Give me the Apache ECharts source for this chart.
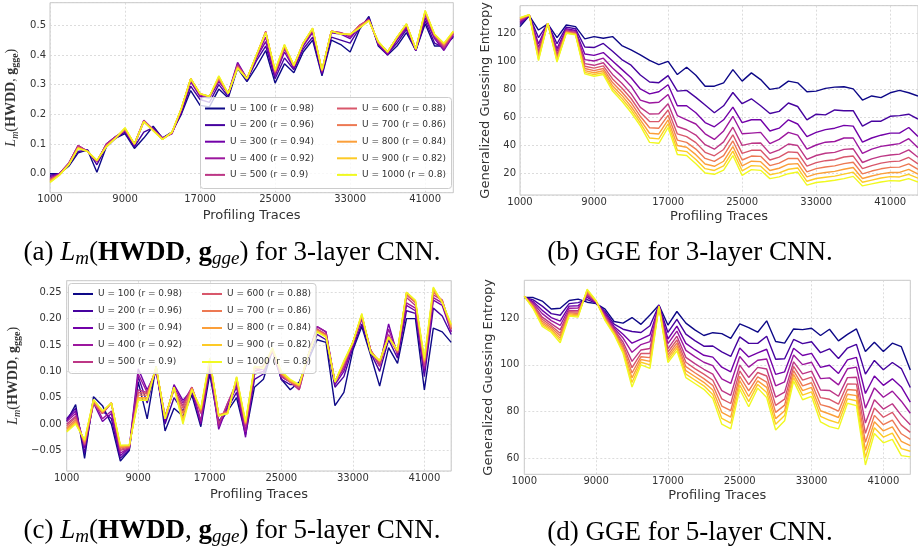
<!DOCTYPE html>
<html>
<head>
<meta charset="utf-8">
<title>HWDD / GGE</title>
<script src="https://cdn.jsdelivr.net/npm/echarts@6.0.0/dist/echarts.min.js"></script>
<style>
  html, body { margin: 0; padding: 0; background: #fff; }
  #main { width: 918px; height: 550px; }
</style>
</head>
<body>
<div id="main"></div>
<script>
// profiling traces (x values) and legend labels
const traces = [1000, 2000, 3000, 4000, 5000, 6000, 7000, 8000, 9000, 10000,
  11000, 12000, 13000, 14000, 15000, 16000, 17000, 18000, 19000, 20000,
  21000, 22000, 23000, 24000, 25000, 26000, 27000, 28000, 29000, 30000,
  31000, 32000, 33000, 34000, 35000, 36000, 37000, 38000, 39000, 40000,
  41000, 42000, 43000, 44000];
const uLabels = ['U = 100 (r = 0.98)', 'U = 200 (r = 0.96)', 'U = 300 (r = 0.94)',
  'U = 400 (r = 0.92)', 'U = 500 (r = 0.9)', 'U = 600 (r = 0.88)', 'U = 700 (r = 0.86)',
  'U = 800 (r = 0.84)', 'U = 900 (r = 0.82)', 'U = 1000 (r = 0.8)'];
const colors = ['#0d0887', '#46039f', '#7201a8', '#9c179e', '#bd3786',
  '#d8576b', '#ed7953', '#fb9f3a', '#fdca26', '#f0f921'];

// (a) Lm, 3-layer CNN
const lm3_u100 = [0.0,0.0,0.025,0.07,0.08,0.005,0.09,0.12,0.135,0.085,0.12,0.16,0.12,0.14,0.2,0.28,0.23,0.225,0.285,0.255,0.355,0.31,0.36,0.415,0.305,0.37,0.34,0.41,0.45,0.33,0.45,0.435,0.41,0.485,0.53,0.43,0.4,0.43,0.475,0.415,0.505,0.43,0.43,0.46];
const lm3_u200 = [-0.005,0.0,0.03,0.075,0.08,0.03,0.09,0.12,0.14,0.09,0.14,0.155,0.12,0.14,0.205,0.295,0.25,0.24,0.3,0.26,0.365,0.315,0.38,0.43,0.32,0.39,0.35,0.42,0.46,0.335,0.46,0.45,0.44,0.49,0.525,0.435,0.405,0.44,0.485,0.415,0.515,0.44,0.425,0.465];
const lm3_u300 = [-0.01,0.0,0.035,0.095,0.075,0.04,0.1,0.125,0.145,0.095,0.175,0.15,0.12,0.135,0.21,0.31,0.26,0.255,0.31,0.27,0.375,0.32,0.39,0.445,0.33,0.41,0.355,0.43,0.475,0.34,0.475,0.47,0.455,0.495,0.52,0.435,0.4,0.45,0.49,0.415,0.525,0.455,0.415,0.465];
const lm3_u400 = [-0.015,0.0,0.035,0.095,0.075,0.04,0.1,0.125,0.145,0.1,0.18,0.15,0.12,0.135,0.215,0.315,0.265,0.26,0.315,0.27,0.37,0.32,0.39,0.46,0.335,0.42,0.36,0.435,0.48,0.345,0.48,0.475,0.46,0.5,0.52,0.44,0.405,0.455,0.495,0.418,0.535,0.46,0.42,0.47];
const lm3_u500 = [-0.018,-0.002,0.035,0.095,0.075,0.042,0.098,0.122,0.148,0.1,0.178,0.148,0.118,0.137,0.217,0.318,0.267,0.26,0.318,0.27,0.365,0.32,0.395,0.48,0.34,0.425,0.362,0.438,0.485,0.345,0.48,0.475,0.465,0.5,0.518,0.44,0.41,0.458,0.5,0.42,0.54,0.465,0.425,0.472];
const lm3_u600 = [-0.02,-0.003,0.033,0.09,0.075,0.043,0.095,0.12,0.15,0.1,0.177,0.147,0.117,0.138,0.218,0.32,0.268,0.26,0.32,0.27,0.362,0.32,0.397,0.478,0.342,0.428,0.363,0.44,0.487,0.347,0.48,0.473,0.467,0.5,0.518,0.442,0.41,0.458,0.502,0.42,0.542,0.467,0.43,0.474];
const lm3_u700 = [-0.022,-0.003,0.032,0.088,0.075,0.044,0.093,0.12,0.151,0.1,0.177,0.146,0.116,0.138,0.219,0.32,0.269,0.26,0.322,0.27,0.36,0.32,0.398,0.477,0.344,0.43,0.364,0.44,0.488,0.348,0.48,0.472,0.468,0.495,0.517,0.443,0.41,0.459,0.503,0.42,0.545,0.468,0.433,0.476];
const lm3_u800 = [-0.025,-0.004,0.031,0.087,0.075,0.044,0.092,0.12,0.152,0.1,0.176,0.146,0.116,0.139,0.219,0.32,0.27,0.26,0.325,0.27,0.358,0.32,0.399,0.476,0.346,0.432,0.364,0.44,0.489,0.348,0.48,0.471,0.469,0.493,0.516,0.444,0.41,0.46,0.504,0.42,0.547,0.469,0.436,0.478];
const lm3_u900 = [-0.028,-0.005,0.03,0.086,0.075,0.045,0.091,0.12,0.154,0.1,0.176,0.145,0.115,0.14,0.22,0.32,0.27,0.26,0.328,0.27,0.356,0.32,0.4,0.475,0.348,0.434,0.365,0.44,0.49,0.349,0.48,0.47,0.47,0.491,0.515,0.445,0.41,0.46,0.505,0.42,0.549,0.47,0.438,0.479];
const lm3_u1000 = [-0.03,-0.005,0.03,0.085,0.075,0.045,0.09,0.12,0.155,0.1,0.175,0.145,0.115,0.14,0.22,0.32,0.27,0.26,0.33,0.27,0.355,0.32,0.4,0.475,0.35,0.435,0.365,0.44,0.49,0.35,0.48,0.47,0.47,0.49,0.515,0.445,0.41,0.46,0.505,0.42,0.55,0.47,0.44,0.48];

// (b) GGE, 3-layer CNN
const gge3_u100 = [124.5,132.3,122.1,126.5,116.7,125.7,124.5,115.8,117.4,116.2,117.4,111,108,104.4,100.4,97.4,99.7,90.3,95.5,89.8,82,82,84.4,93.8,85.6,91.5,86.7,79.7,80.8,85.6,84.4,78,78.5,80.4,81.3,81.6,80.1,72.1,75,73.8,77.3,79,77.3,75];
const gge3_u200 = [126.1,132.5,116.6,126.6,112.3,124.2,123,110,109.6,112.5,107,101,97,90,85,84.5,89.5,78.5,79,74,68.5,63,68,77.5,69.5,73,68,62.5,64,70,67.5,58,62,61.5,65,64.5,64.5,53.5,57,57,60.5,61,62,58.5];
const gge3_u300 = [127.4,132.6,112.2,126.7,108.8,123,121.8,105,104,106,100,94,88,80,76.5,78,83,68,68,63,56,53,58,67,56,58,58,50,52,58,55,46,49,51,52,54,53.5,42,45,47,48.5,48.5,52.5,46];
const gge3_u400 = [128.2,132.7,109.6,126.8,106.7,122.3,121.1,101,100,102,95,89,82,72,70,70.5,76,61,58,55,48,44,50,60.5,48,48.5,49,41,44,49,47,37,40,42,42.5,45,45,34,37,39,40,41,44.5,38];
const gge3_u500 = [129.0,132.8,107.0,126.9,104.6,121.6,120.4,98.1,96.9,98.7,90.4,84.1,76.7,66.9,62.1,62.3,69.4,53.2,50.9,47.1,40.2,37,42.2,52.7,39.7,41.2,41.4,34,36.5,40.7,39.6,29.8,32.5,34.1,34.7,36.9,37.3,27.5,30.1,31.9,32.9,33.5,36.5,31.2];
const gge3_u600 = [129.5,132.8,105.2,126.9,103.2,121.1,119.9,96.2,94.9,96.5,87.2,80.7,73.2,63.4,56.8,56.7,65,47.9,46,41.7,34.8,32.3,36.8,47.3,34,36.2,36.3,29.3,31.4,35.1,34.6,24.9,27.4,28.8,29.5,31.4,32.1,23.1,25.3,27.1,28.1,28.5,31.1,26.5];
const gge3_u700 = [130.0,132.9,103.7,126.9,102,120.7,119.5,94.6,93.1,94.6,84.6,77.9,70.2,60.5,52.3,52,61.2,43.5,41.9,37.1,30.4,28.3,32.4,42.9,29.3,32.1,31.9,25.3,27.1,30.4,30.4,20.8,23.1,24.3,25.1,26.7,27.7,19.4,21.4,23,24,24.2,26.5,22.6];
const gge3_u800 = [130.4,132.9,102.4,127,100.9,120.4,119.2,93.1,91.6,93,82.3,75.4,67.5,57.9,48.4,47.9,57.9,39.6,38.4,33.1,26.4,24.8,28.4,38.9,25.1,28.4,28.1,21.8,23.4,26.3,26.7,17.2,19.4,20.4,21.2,22.7,23.9,16.1,17.9,19.4,20.4,20.4,22.6,19.2];
const gge3_u900 = [130.7,133,101.2,127,100,120.1,118.9,91.9,90.3,91.6,80.3,73.3,65.3,55.7,45,44.4,55.1,36.3,35.3,29.7,23.1,21.8,25.1,35.6,21.6,25.3,24.9,18.8,20.1,22.7,23.6,14.1,16.1,17,17.8,19.2,20.6,13.4,14.9,16.4,17.4,17.2,19.1,16.3];
const gge3_u1000 = [131,133,100.2,127,99.2,119.8,118.6,90.8,89.1,90.3,78.5,71.4,63.2,53.7,41.9,41.2,52.5,33.2,32.5,26.6,20,19.1,22,32.5,18.3,22.4,21.9,16,17.2,19.5,20.7,11.3,13.2,13.9,14.8,16,17.6,10.8,12.2,13.6,14.6,14.3,16,13.6];

// (c) Lm, 5-layer CNN
const lm5_u100 = [0.005,0.037,-0.065,0.052,0.035,0.0,-0.07,-0.05,0.08,0.01,0.11,-0.013,0.03,0.015,0.055,-0.005,0.095,0.0,0.025,0.05,-0.02,0.07,0.085,0.14,0.085,0.065,0.08,0.12,0.16,0.155,0.035,0.06,0.14,0.185,0.13,0.072,0.145,0.115,0.2,0.2,0.065,0.182,0.175,0.155];
const lm5_u200 = [0.01,0.03,-0.055,0.045,0.025,0.01,-0.065,-0.048,0.09,0.04,0.105,0.0,0.05,0.025,0.06,0.005,0.105,0.005,0.03,0.06,-0.015,0.085,0.095,0.14,0.085,0.075,0.075,0.125,0.17,0.16,0.07,0.09,0.145,0.19,0.135,0.1,0.16,0.125,0.215,0.21,0.09,0.22,0.205,0.17];
const lm5_u300 = [0.008,0.025,-0.045,0.04,0.005,0.02,-0.06,-0.045,0.105,0.065,0.1,0.005,0.075,0.045,0.065,0.0,0.11,-0.01,0.035,0.07,-0.025,0.095,0.1,0.14,0.09,0.08,0.07,0.13,0.185,0.175,0.075,0.1,0.15,0.2,0.14,0.11,0.19,0.13,0.225,0.215,0.1,0.235,0.225,0.175];
const lm5_u400 = [0.005,0.02,-0.04,0.045,0.01,0.025,-0.055,-0.045,0.095,0.06,0.1,0.01,0.07,0.04,0.07,0.005,0.115,-0.005,0.04,0.075,-0.015,0.1,0.105,0.14,0.09,0.08,0.065,0.13,0.185,0.175,0.08,0.105,0.15,0.2,0.14,0.115,0.18,0.135,0.23,0.22,0.105,0.24,0.23,0.175];
const lm5_u500 = [0.0,0.015,-0.04,0.04,0.02,0.04,-0.05,-0.045,0.065,0.06,0.105,0.015,0.065,0.035,0.07,0.02,0.115,0.0,0.04,0.08,-0.005,0.1,0.11,0.14,0.09,0.08,0.065,0.13,0.18,0.17,0.08,0.11,0.155,0.205,0.14,0.11,0.17,0.135,0.24,0.225,0.11,0.245,0.235,0.18];
const lm5_u600 = [-0.003,0.012,-0.038,0.04,0.02,0.04,-0.048,-0.043,0.06,0.058,0.105,0.015,0.065,0.03,0.07,0.022,0.118,0.015,0.025,0.085,0.0,0.105,0.11,0.14,0.095,0.08,0.07,0.13,0.18,0.17,0.08,0.115,0.155,0.205,0.14,0.115,0.165,0.135,0.245,0.23,0.115,0.25,0.235,0.18];
const lm5_u700 = [-0.007,0.008,-0.035,0.045,0.022,0.04,-0.045,-0.042,0.055,0.055,0.107,0.012,0.068,0.02,0.068,0.025,0.12,0.018,0.022,0.085,0.0,0.105,0.11,0.14,0.095,0.08,0.072,0.13,0.178,0.168,0.08,0.115,0.155,0.205,0.138,0.118,0.165,0.138,0.248,0.232,0.118,0.252,0.232,0.182];
const lm5_u800 = [-0.01,0.005,-0.033,0.045,0.023,0.04,-0.043,-0.041,0.05,0.05,0.108,0.01,0.07,0.01,0.067,0.027,0.122,0.017,0.021,0.088,0.002,0.108,0.108,0.142,0.097,0.082,0.073,0.13,0.177,0.167,0.08,0.117,0.155,0.207,0.137,0.12,0.165,0.14,0.25,0.233,0.12,0.255,0.232,0.185];
const lm5_u900 = [-0.013,0.002,-0.031,0.046,0.024,0.04,-0.041,-0.04,0.048,0.047,0.109,0.01,0.07,0.005,0.066,0.028,0.123,0.016,0.02,0.089,0.003,0.109,0.106,0.144,0.098,0.083,0.074,0.13,0.176,0.166,0.08,0.118,0.155,0.208,0.136,0.12,0.165,0.14,0.25,0.234,0.122,0.258,0.231,0.188];
const lm5_u1000 = [-0.015,0.0,-0.03,0.047,0.025,0.04,-0.04,-0.04,0.045,0.045,0.11,0.01,0.07,0.0,0.065,0.03,0.125,0.015,0.02,0.09,0.005,0.11,0.105,0.145,0.1,0.085,0.075,0.13,0.175,0.165,0.08,0.12,0.155,0.21,0.135,0.12,0.165,0.14,0.25,0.235,0.125,0.26,0.23,0.19];

// (d) GGE, 5-layer CNN
const gge5_u100 = [128.9,128.9,127.4,124,124.3,127.6,128.2,126.9,126.3,123.9,118.6,117.9,120.3,117.4,121.4,125.7,117.1,122.9,117.9,115,112.6,113.8,113.4,111.4,117.6,116,114,118.9,110,109.3,115.4,115.1,115.7,112.6,115.3,110.3,113.1,115.4,105.7,109.7,105.7,109.3,107.8,97.8];
const gge5_u200 = [129.0,127.9,125.2,122,121.3,126.3,126.7,128,126.5,122.9,117.5,115.3,114.3,113.9,116.8,125.6,113.9,119.5,113.2,110.4,108,108.1,105.6,103.6,112,109.2,109.2,112.3,102.4,102.6,110.9,109.1,109.9,105.2,106.9,102.7,107.2,108.8,96,101.9,97.9,101,98.4,90.3];
const gge5_u300 = [129.1,127.1,123.4,120.3,118.8,125.2,125.4,129,126.7,122.1,116.5,113.1,109.3,111,112.9,125.4,111.1,116.6,109.2,106.5,104.1,103.3,99,97,107.2,103.4,105.1,106.7,95.9,97,107.1,104,104.9,98.9,99.8,96.3,102.1,103.2,87.7,95.2,91.2,94,90.5,84];
const gge5_u400 = [129.2,126.5,122,119,116.9,124.3,124.4,129.7,126.9,121.5,115.8,111.5,105.4,108.7,110,125.4,109.1,114.5,106.2,103.5,101.1,99.7,94,92,103.6,99,102,102.5,91,92.7,104.2,100.1,101.1,94.1,94.4,91.4,98.3,99,81.4,90.1,86.1,88.7,84.4,79.2];
const gge5_u500 = [129.3,125.8,120.5,117.7,115,123.4,123.3,130.4,127.1,120.8,115.1,109.8,101.5,106.4,107,125.3,107,112.3,103.2,100.5,98.1,96,88.9,86.9,99.9,94.6,98.9,98.2,86.1,88.3,101.3,96.1,97.3,89.2,89,86.5,94.5,94.7,75,85,81,83.3,78.3,74.3];
const gge5_u600 = [129.3,125.4,119.6,116.8,113.6,122.8,122.7,130.9,127.2,120.4,114.6,108.6,98.8,104.9,104.9,125.2,105.5,110.7,101.1,98.4,96,93.4,85.4,83.4,97.4,91.5,96.7,95.2,82.6,85.3,99.3,93.4,94.7,85.9,85.2,83.1,91.8,91.7,70.6,81.5,77.5,79.6,74.1,71];
const gge5_u700 = [129.4,125,118.7,116,112.5,122.3,122,131.4,127.3,120,114.1,107.6,96.5,103.5,103.1,125.1,104.2,109.4,99.2,96.6,94.1,91.2,82.3,80.3,95.1,88.8,94.8,92.6,79.6,82.7,97.5,91,92.3,82.9,81.9,80.1,89.4,89.1,66.7,78.3,74.3,76.3,70.4,68];
const gge5_u800 = [129.4,124.6,117.9,115.3,111.4,121.9,121.5,131.8,127.3,119.6,113.7,106.7,94.4,102.3,101.5,125.1,103.1,108.2,97.5,95,92.5,89.2,79.6,77.6,93.2,86.4,93.1,90.3,76.9,80.3,95.9,88.9,90.3,80.3,78.9,77.4,87.4,86.8,63.3,75.6,71.6,73.4,67.1,65.3];
const gge5_u900 = [129.5,124.3,117.2,114.7,110.5,121.4,121,132.1,127.4,119.3,113.4,105.8,92.4,101.1,100,125,102,107.1,96,93.5,91,87.3,77,75,91.3,84.2,91.6,88.1,74.5,78.2,94.5,87,88.4,77.9,76.2,75,85.4,84.6,60.2,73,69,70.7,64,62.9];
const gge5_u1000 = [129.5,124,116.5,114,109.5,121,120.5,132.5,127.5,119,113,105,90.5,100,98.5,125,101,106,94.5,92,89.5,85.5,74.5,72.5,89.5,82,90,86,72,76,93,85,86.5,75.5,73.5,72.5,83.5,82.5,57,70.5,66.5,68,61,60.5];

const TXT = '#333';
const SANS = 'DejaVu Sans';
const SERIF = 'Liberation Serif';

function mathRich(size, color) {
  const sub = Math.round(size * 0.7);
  return {
    rm: { fontFamily: SERIF, fontSize: size, lineHeight: size + 4, color, verticalAlign: 'middle' },
    it: { fontFamily: SERIF, fontSize: size, fontStyle: 'italic', lineHeight: size + 4, color, verticalAlign: 'middle' },
    bf: { fontFamily: SERIF, fontSize: size, fontWeight: 'bold', lineHeight: size + 4, color, verticalAlign: 'middle' },
    sub: { fontFamily: SERIF, fontSize: sub, fontStyle: 'italic', lineHeight: sub, color, verticalAlign: 'bottom' },
    subbf: { fontFamily: SERIF, fontSize: sub, fontWeight: 'bold', lineHeight: sub, color, verticalAlign: 'bottom' }
  };
}
const lmAxisName = '{it|L}{sub|m}{rm|(}{bf|HWDD}{rm|, }{bf|g}{subbf|gge}{rm|)}';

function fmtSigned(digits) {
  return function (v) {
    if (Math.abs(v) < 1e-9) v = 0;
    const s = Math.abs(v).toFixed(digits);
    return v < 0 ? '\u2212' + s : s;
  };
}

const grids = [
  { left: 50, top: 2.7, width: 403.3, height: 190 },
  { left: 520, top: 3.3, width: 401.3, height: 191.7 },
  { left: 66.7, top: 280.7, width: 384.5, height: 190.3 },
  { left: 524.3, top: 280.3, width: 386, height: 194 }
].map((g) => ({ ...g, show: true, borderColor: '#c6c6c6', borderWidth: 1, backgroundColor: '#fff' }));

const splitLine = { show: true, lineStyle: { color: '#d4d4d4', type: [2, 2], width: 0.8 } };

function xAxis(i, nameGap) {
  return {
    type: 'value', gridIndex: i, min: 1000, max: 44000, interval: 8000,
    axisLine: { show: false }, axisTick: { show: false }, splitLine,
    axisLabel: {
      showMinLabel: true, showMaxLabel: false, margin: 2, fontSize: 10, color: TXT, fontFamily: SANS,
      formatter: (v) => String(Math.round(v))
    },
    name: 'Profiling Traces', nameLocation: 'middle', nameGap,
    nameTextStyle: { fontSize: 13, color: TXT, fontFamily: SANS }
  };
}

function yAxis(i, min, max, splitNumber, formatter, name, nameGap, nameTextStyle, margin) {
  return {
    type: 'value', gridIndex: i, min, max, splitNumber,
    axisLine: { show: false }, axisTick: { show: false }, splitLine,
    axisLabel: { showMinLabel: false, showMaxLabel: false, margin, fontSize: 10, color: TXT, fontFamily: SANS, formatter },
    name, nameLocation: 'middle', nameGap, nameTextStyle
  };
}

function makeSeries(plot, arrays) {
  return arrays.map((arr, j) => ({
    type: 'line',
    name: uLabels[j],
    xAxisIndex: plot,
    yAxisIndex: plot,
    data: traces.map((x, i) => [x, arr[i]]),
    symbol: 'none',
    lineStyle: { width: 1.4, color: colors[j] },
    itemStyle: { color: colors[j] },
    emphasis: { disabled: true },
    animation: false
  }));
}

function legend(left, top, data, gap) {
  return {
    orient: 'vertical', left, top, padding: 0,
    icon: 'path://M0,0H20V2H0Z', symbolKeepAspect: true,
    itemWidth: 20, itemHeight: 10, itemGap: gap,
    data, selectedMode: false, z: 10,
    textStyle: { fontSize: 9, color: TXT, fontFamily: SANS }
  };
}

function legendBox(x, y, w, h) {
  return {
    type: 'rect', z: 5, silent: true,
    shape: { x, y, width: w, height: h, r: 3 },
    style: { fill: 'rgba(255,255,255,0.8)', stroke: '#cccccc', lineWidth: 1 }
  };
}

function caption(x, y, text) {
  return {
    type: 'text', x, y, z: 5, silent: true,
    style: { text, rich: mathRich(27, '#000'), align: 'center', verticalAlign: 'middle', fill: '#000' }
  };
}

const option = {
  animation: false,
  backgroundColor: '#fff',
  grid: grids,
  xAxis: [xAxis(0, 16), xAxis(1, 15), xAxis(2, 17), xAxis(3, 15)],
  yAxis: [
    yAxis(0, -0.064, 0.576, 5, fmtSigned(1), lmAxisName, 30,
      { rich: mathRich(14, TXT) }, 4),
    yAxis(1, 4.3, 139.5, 7, (v) => String(Math.round(v)), 'Generalized Guessing Entropy', 28,
      { fontSize: 13, color: TXT, fontFamily: SANS }, 4),
    yAxis(2, -0.089, 0.272, 7, fmtSigned(2), lmAxisName, 44,
      { rich: mathRich(14, TXT) }, 5),
    yAxis(3, 53, 136.3, 5, (v) => String(Math.round(v)), 'Generalized Guessing Entropy', 29,
      { fontSize: 13, color: TXT, fontFamily: SANS }, 5)
  ],
  legend: [
    legend(205, 104, uLabels.slice(0, 5), 7.6),
    legend(337, 104, uLabels.slice(5), 7.6),
    legend(73, 289.5, uLabels.slice(0, 5), 8),
    legend(202, 289.5, uLabels.slice(5), 8)
  ],
  graphic: [
    legendBox(200.5, 97.5, 251, 91),
    legendBox(68.5, 283.5, 247.5, 90),
    caption(232, 253, '{rm|(a) }{it|L}{sub|m}{rm|(}{bf|HWDD}{rm|, }{bf|g}{sub|gge}{rm|) for 3-layer CNN.}'),
    caption(690, 253, '{rm|(b) GGE for 3-layer CNN.}'),
    caption(232, 531, '{rm|(c) }{it|L}{sub|m}{rm|(}{bf|HWDD}{rm|, }{bf|g}{sub|gge}{rm|) for 5-layer CNN.}'),
    caption(690, 533, '{rm|(d) GGE for 5-layer CNN.}')
  ],
  series: [
    ...makeSeries(0, [lm3_u100, lm3_u200, lm3_u300, lm3_u400, lm3_u500, lm3_u600, lm3_u700, lm3_u800, lm3_u900, lm3_u1000]),
    ...makeSeries(1, [gge3_u100, gge3_u200, gge3_u300, gge3_u400, gge3_u500, gge3_u600, gge3_u700, gge3_u800, gge3_u900, gge3_u1000]),
    ...makeSeries(2, [lm5_u100, lm5_u200, lm5_u300, lm5_u400, lm5_u500, lm5_u600, lm5_u700, lm5_u800, lm5_u900, lm5_u1000]),
    ...makeSeries(3, [gge5_u100, gge5_u200, gge5_u300, gge5_u400, gge5_u500, gge5_u600, gge5_u700, gge5_u800, gge5_u900, gge5_u1000])
  ]
};

const chart = echarts.init(document.getElementById('main'));
chart.setOption(option);
</script>
</body>
</html>
